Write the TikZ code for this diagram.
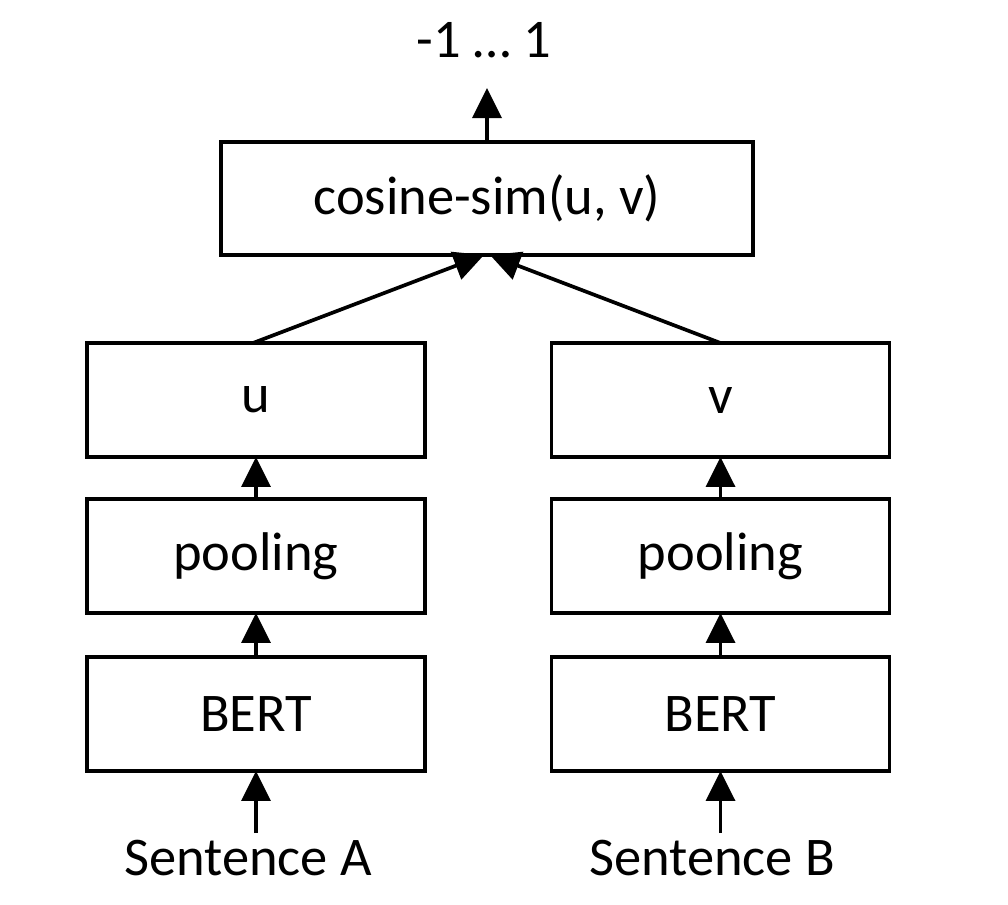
\documentclass[tikz,border=0pt]{standalone}
\usepackage{fontspec}
\setmainfont{Carlito}
\usetikzlibrary{arrows.meta}
\begin{document}
\begin{tikzpicture}[x=0.02cm,y=-0.02cm,
  font=\fontsize{31}{36}\selectfont,
  box/.style={draw,line width=2.1pt,inner sep=0pt,outer sep=0pt,
    minimum width=6.76cm,minimum height=2.28cm},
  widebox/.style={box,minimum width=10.64cm,minimum height=2.26cm},
  arr/.style={line width=2.1pt,-{Triangle[width=0.58cm,length=0.6cm]}},
  lbl/.style={inner sep=0pt}]
\useasboundingbox (0,0) rectangle (1008,904);
% similarity head
\node[widebox] (cos) at (487,198.5) {cosine-sim(u, v)};
\node[lbl] (out) at (484,40) {-1 … 1};
\coordinate (outtip) at (487,88);
% left branch
\node[box] (u)  at (256,400) {u};
\node[box] (pa) at (256,556) {pooling};
\node[box] (ba) at (256,714) {BERT};
\node[lbl] (sa) at (248,858) {Sentence A};
\coordinate (sain) at (256,833);
% right branch
\node[box] (v)  at (720.5,400) {v};
\node[box] (pb) at (720.5,556) {pooling};
\node[box] (bb) at (720.5,714) {BERT};
\node[lbl] (sb) at (712,858) {Sentence B};
\coordinate (sbin) at (720.5,833);
% connectors
\draw[arr] (cos.north) -- (outtip);
\draw[arr] ([xshift=-0.06cm]u.north) -- ([xshift=-0.06cm]cos.south);
\draw[arr] (v.north) -- ([xshift=0.06cm]cos.south);
\draw[arr] (pa) -- (u);
\draw[arr] (ba) -- (pa);
\draw[arr] (sain) -- (ba);
\draw[arr] (pb) -- (v);
\draw[arr] (bb) -- (pb);
\draw[arr] (sbin) -- (bb);
\end{tikzpicture}
\end{document}
